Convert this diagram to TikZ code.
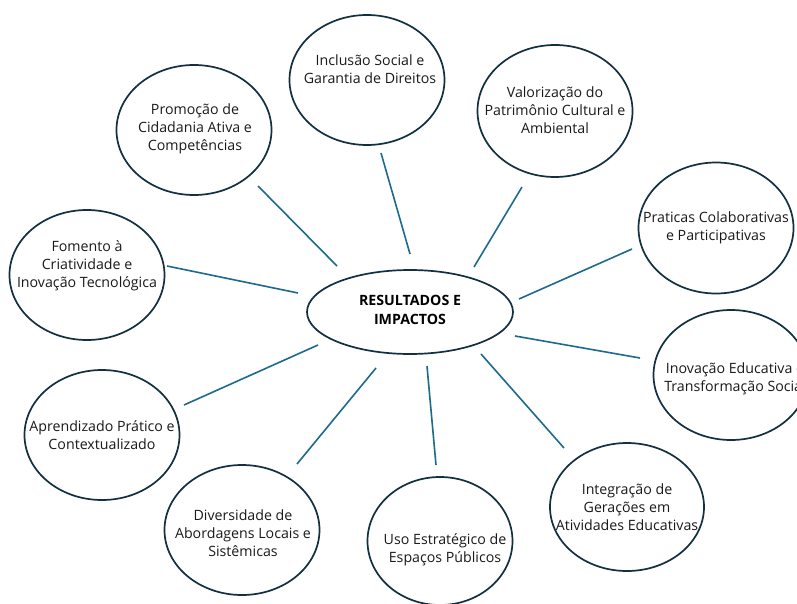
\documentclass[tikz,border=0pt]{standalone}
\usepackage{fontspec}
\setmainfont{Open Sans}
\usetikzlibrary{shapes.geometric}
\definecolor{rim}{HTML}{12303F}
\definecolor{link}{HTML}{1D6A8E}
\definecolor{ink}{HTML}{1A1A1A}
\tikzset{
  bubble/.style={ellipse, draw=rim, line width=1.7pt, inner sep=0pt, fill=white},
  caption/.style={align=center, text=ink, font=\fontsize{14.2}{17.8}\selectfont, inner sep=0pt},
  hub/.style={align=center, text=black, font=\bfseries\fontsize{14.2}{19}\selectfont, inner sep=0pt},
  spoke/.style={draw=link, line width=1.6pt}
}
\begin{document}
\begin{tikzpicture}[x=1pt,y=-1pt]
\useasboundingbox (0,0) rectangle (797,604);
\fill[white] (0,0) rectangle (797,604);
% ellipses
\node[bubble, minimum width=155pt, minimum height=130pt] (inc) at (367,80) {};
\node[bubble, minimum width=155pt, minimum height=132pt] (val) at (555,111) {};
\node[bubble, minimum width=155pt, minimum height=130pt] (pro) at (194,130) {};
\node[bubble, minimum width=155pt, minimum height=131pt] (pra) at (716,228) {};
\node[bubble, minimum width=155pt, minimum height=130pt] (fom) at (87,275) {};
\node[bubble, minimum width=155pt, minimum height=130pt] (ino) at (731,375) {};
\node[bubble, minimum width=155pt, minimum height=130pt] (apr) at (102,435) {};
\node[bubble, minimum width=154pt, minimum height=128pt] (int) at (627,507) {};
\node[bubble, minimum width=155pt, minimum height=130pt] (div) at (242,530) {};
\node[bubble, minimum width=145pt, minimum height=128pt] (uso) at (440,541) {};
\node[bubble, minimum width=206pt, minimum height=84pt] (res) at (410,312) {};
% texts
\node[caption] (tinc) at (370,69.5) {Inclusão Social e\\Garantia de Direitos};
\node[caption] (tval) at (555,110) {Valorização do\\Patrimônio Cultural e\\Ambiental};
\node[caption] (tpro) at (195,129) {Promoção de\\Cidadania Ativa e\\Competências};
\node[caption] (tpra) at (716,227.5) {Praticas Colaborativas\\e Participativas};
\node[caption] (tfom) at (87,266) {Fomento à\\Criatividade e\\Inovação Tecnológica};
\node[caption] (tino) at (735,379) {Inovação Educativa e\\Transformação Social};
\node[caption] (tapr) at (102,435) {Aprendizado Prático e\\Contextualizado};
\node[caption] (tint) at (627,507) {Integração de\\Gerações em\\Atividades Educativas};
\node[caption] (tdiv) at (243,533) {Diversidade de\\Abordagens Locais e\\Sistêmicas};
\node[caption] (tuso) at (445,549.5) {Uso Estratégico de\\Espaços Públicos};
\node[hub] (tres) at (410,310) {RESULTADOS E\\IMPACTOS};
% connector end points
\coordinate (incA) at (381,153); \coordinate (incB) at (410,254);
\coordinate (valA) at (522,187); \coordinate (valB) at (474,267);
\coordinate (proA) at (258,186); \coordinate (proB) at (337,266);
\coordinate (praA) at (632,249); \coordinate (praB) at (519,299);
\coordinate (fomA) at (167,266); \coordinate (fomB) at (298,293);
\coordinate (inoA) at (640,358); \coordinate (inoB) at (515,336);
\coordinate (aprA) at (184,405); \coordinate (aprB) at (318,345);
\coordinate (intA) at (564,448); \coordinate (intB) at (481,354);
\coordinate (divA) at (297,464); \coordinate (divB) at (376,368);
\coordinate (usoA) at (436,465); \coordinate (usoB) at (427,366);
\draw[spoke] (incA) -- (incB);
\draw[spoke] (valA) -- (valB);
\draw[spoke] (proA) -- (proB);
\draw[spoke] (praA) -- (praB);
\draw[spoke] (fomA) -- (fomB);
\draw[spoke] (inoA) -- (inoB);
\draw[spoke] (aprA) -- (aprB);
\draw[spoke] (intA) -- (intB);
\draw[spoke] (divA) -- (divB);
\draw[spoke] (usoA) -- (usoB);
\end{tikzpicture}
\end{document}
